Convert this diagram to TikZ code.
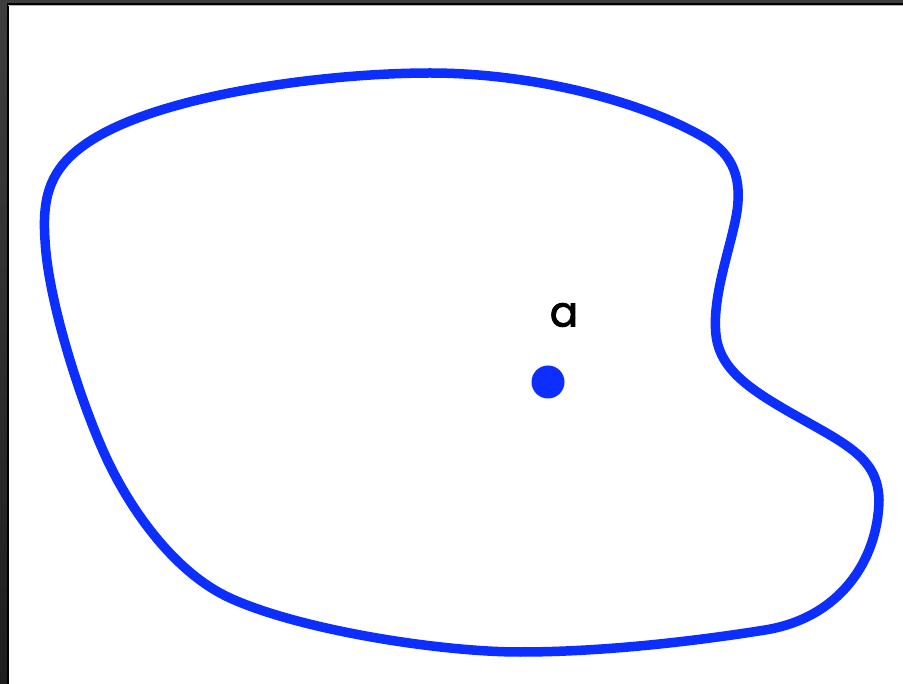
\documentclass[tikz,border=0pt]{standalone}
\usepackage{fontspec}
\setmainfont{Poppins}
\newfontfamily\lblfont{Poppins}[FakeBold=2]
\definecolor{blobblue}{RGB}{12,46,255}
\definecolor{frameA}{RGB}{62,62,62}
\definecolor{frameB}{RGB}{30,30,30}
\begin{document}
\begin{tikzpicture}[x=1pt,y=-1pt,
  blob/.style={draw=blobblue,line width=9.5pt,line join=round},
  dotnode/.style={circle,fill=blobblue,inner sep=0pt,minimum size=33pt},
  lbl/.style={font=\lblfont\fontsize{42}{44}\selectfont,inner sep=0pt}]
\useasboundingbox (0,0) rectangle (903,684);
\shade[top color=frameA,bottom color=frameB] (0,0) rectangle (903,684);
\fill[black] (7,3) rectangle (903,684);
\fill[gray!60] (8,5) rectangle (903,6);
\fill[white] (8.5,6) rectangle (903,684);
\draw[blob] (430,73)
  .. controls (530,73) and (640,100) .. (705,138)
  .. controls (740,158) and (742,190) .. (735,222)
  .. controls (728,255) and (712,300) .. (716,335)
  .. controls (720,370) and (750,390) .. (800,418)
  .. controls (850,446) and (878,460) .. (879,500)
  .. controls (878,560) and (840,618) .. (765,630)
  .. controls (690,642) and (600,652) .. (520,652)
  .. controls (440,652) and (300,630) .. (230,598)
  .. controls (175,573) and (130,510) .. (105,455)
  .. controls (80,400) and (48,300) .. (45,240)
  .. controls (42,195) and (50,165) .. (95,138)
  .. controls (170,93) and (330,73) .. cycle;
\node[dotnode] (p) at (548,382) {};
\node[lbl] (a) at (564,315) {a};
\end{tikzpicture}
\end{document}
